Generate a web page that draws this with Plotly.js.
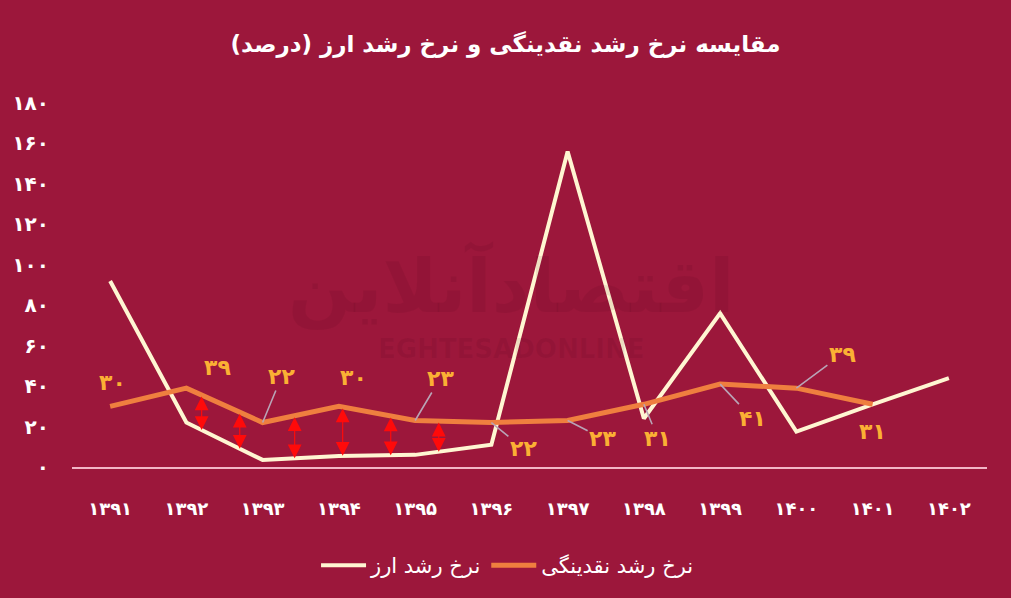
<!DOCTYPE html>
<html>
<head>
<meta charset="utf-8">
<script src="https://cdn.plot.ly/plotly-3.0.1.min.js"></script>
<style>
  html, body { margin: 0; padding: 0; background: #9c173b; }
  #chart { width: 1011px; height: 598px; }
</style>
</head>
<body>
<div id="chart"></div>
<script>
// ---- data ----
const years = ['۱۳۹۱','۱۳۹۲','۱۳۹۳','۱۳۹۴','۱۳۹۵','۱۳۹۶','۱۳۹۷','۱۳۹۸','۱۳۹۹','۱۴۰۰','۱۴۰۱','۱۴۰۲'];
const currencyGrowth = [92, 22, 3.5, 5.5, 6, 11, 156, 24, 76, 17.5, 31, 44];
const liquidityGrowth = [30, 39, 22, 30, 23, 22, 23, 31, 41, 39, 31, null];
const liquidityLabels = ['۳۰','۳۹','۲۲','۳۰','۲۳','۲۲','۲۳','۳۱','۴۱','۳۹','۳۱'];
const yTickVals = [0,20,40,60,80,100,120,140,160,180];
const yTickText = ['۰','۲۰','۴۰','۶۰','۸۰','۱۰۰','۱۲۰','۱۴۰','۱۶۰','۱۸۰'];
const seriesNames = ['نرخ رشد ارز', 'نرخ رشد نقدینگی'];
const titleText = 'مقایسه نرخ رشد نقدینگی و نرخ رشد ارز (درصد)\u200F';
const watermarkText = ['اقتصادآنلاین', 'EGHTESADONLINE'];

// ---- styling ----
const BG = '#9c173b';
const FONT = 'DejaVu Sans, sans-serif';
const LABEL_COLOR = '#fbb034';
const LEADER = '#b9a4b6';
const WM = 'rgba(70,0,25,0.09)';

// label offsets (pixels) and whether a leader line is drawn
const labelStyle = [
  {ax: 2,  ay: -24, lead: false},
  {ax: 31, ay: -21, lead: false},
  {ax: 19, ay: -46, lead: true},
  {ax: 15, ay: -29, lead: false},
  {ax: 25, ay: -42, lead: true},
  {ax: 32, ay: 26,  lead: true},
  {ax: 35, ay: 18,  lead: true},
  {ax: 14, ay: 34,  lead: true},
  {ax: 32, ay: 34,  lead: true},
  {ax: 46, ay: -34, lead: true},
  {ax: 0,  ay: 27,  lead: false}
];

const annotations = [];

// faint watermark
annotations.push({
  xref: 'paper', yref: 'paper', x: 0.48, y: (472 - 288) / 369, yanchor: 'middle', showarrow: false,
  text: '<b>' + watermarkText[0] + '</b>',
  font: {family: FONT, size: 74, color: WM}, borderpad: 0
});
annotations.push({
  xref: 'paper', yref: 'paper', x: 0.48, y: (472 - 352) / 369, yanchor: 'middle', showarrow: false,
  text: '<b>' + watermarkText[1] + '</b>',
  font: {family: FONT, size: 26, color: WM}, borderpad: 0
});

liquidityLabels.forEach((t, i) => {
  const s = labelStyle[i];
  annotations.push({
    x: i, y: liquidityGrowth[i], xref: 'x', yref: 'y',
    text: '<b>' + t + '</b>',
    font: {family: FONT, size: 22, color: LABEL_COLOR},
    showarrow: true, arrowhead: 0, arrowwidth: 1.6,
    arrowcolor: s.lead ? LEADER : 'rgba(0,0,0,0)',
    ax: s.ax, ay: s.ay, standoff: 0
  });
});

// red double arrows between the two series
function interp(arr, p) {
  const i = Math.floor(p), f = p - i;
  return arr[i] + f * (arr[i + 1] - arr[i]);
}
const gapPositions = [1.2, 1.7, 2.42, 3.05, 3.68, 4.31];
gapPositions.forEach(p => {
  annotations.push({
    x: p, y: interp(currencyGrowth, p), xref: 'x', yref: 'y',
    ax: p, ay: interp(liquidityGrowth, p), axref: 'x', ayref: 'y',
    text: '', showarrow: true, arrowside: 'end+start',
    arrowhead: 2, arrowsize: 2.3, arrowwidth: 1.2, arrowcolor: '#ff0a0a', standoff: 0, startstandoff: 0
  });
});

const traces = [
  {
    x: years, y: currencyGrowth, name: seriesNames[0], type: 'scatter', mode: 'lines',
    line: {color: '#fff6d2', width: 4}
  },
  {
    x: years, y: liquidityGrowth, name: seriesNames[1], type: 'scatter', mode: 'lines',
    line: {color: '#ef7f3f', width: 5}
  }
];

const layout = {
  width: 1011, height: 598,
  paper_bgcolor: BG, plot_bgcolor: BG,
  margin: {l: 72, r: 24, t: 103, b: 126},
  title: {
    text: '<b>' + titleText + '</b>',
    font: {family: FONT, size: 23, color: '#ffffff'},
    x: 0.5, xanchor: 'center', y: 1 - 44 / 598, yanchor: 'middle', yref: 'container'
  },
  xaxis: {
    type: 'category', range: [-0.5, 11.5], showgrid: false, zeroline: false,
    showline: true, linecolor: '#f2b6c6', linewidth: 2,
    ticks: '', ticklabelstandoff: 24,
    tickfont: {family: FONT, size: 18, color: '#ffffff', weight: 'bold'},
    fixedrange: true
  },
  yaxis: {
    range: [0, 180], showgrid: false, zeroline: false, showline: false,
    tickvals: yTickVals, ticktext: yTickText, ticks: '', ticklabelstandoff: 22,
    tickfont: {family: FONT, size: 20, color: '#ffffff', weight: 'bold'},
    fixedrange: true
  },
  showlegend: true,
  legend: {
    orientation: 'h', x: 0.476, xanchor: 'center', y: -0.271, yanchor: 'middle',
    font: {family: FONT, size: 21, color: '#ffffff'},
    bgcolor: 'rgba(0,0,0,0)', itemwidth: 45
  },
  annotations: annotations
};

Plotly.newPlot('chart', traces, layout, {displayModeBar: false, staticPlot: true});
</script>
</body>
</html>
